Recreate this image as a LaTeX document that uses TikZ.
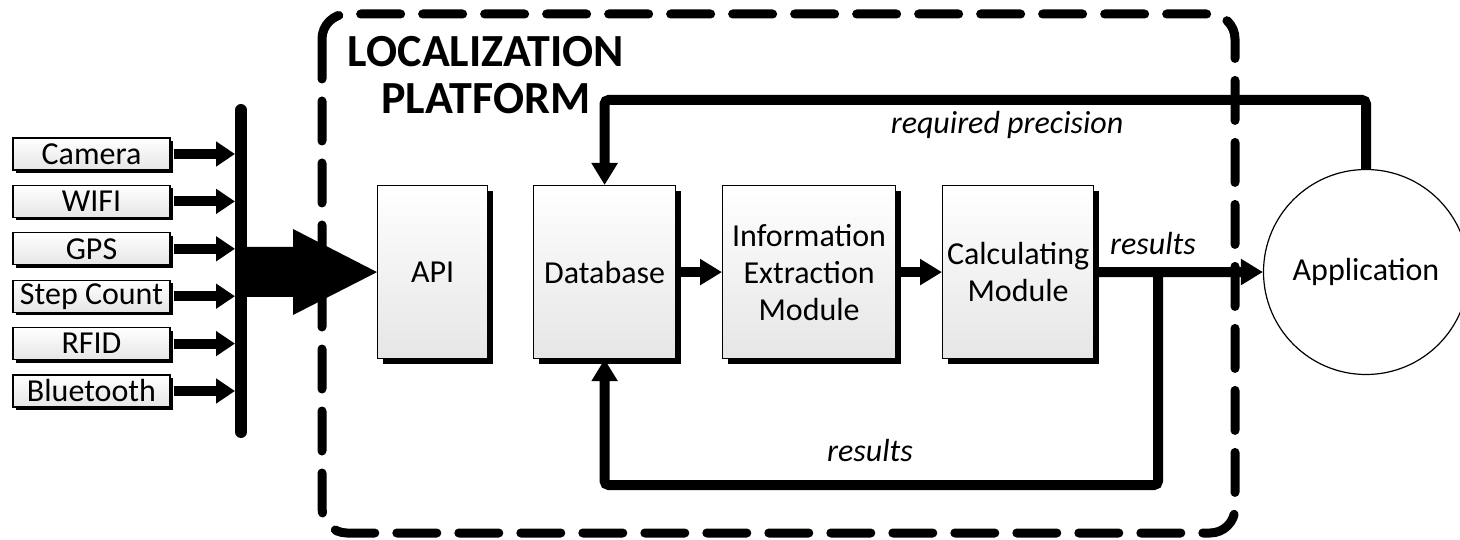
\documentclass[tikz,border=0pt]{standalone}
\usepackage{fontspec}
\setmainfont{Carlito}
\usetikzlibrary{arrows.meta,shadows}
\begin{document}
\begin{tikzpicture}[x=1pt,y=-1pt,
  txt/.style={font=\fontsize{32}{37}\selectfont},
  box/.style={draw, line width=1.2pt, top color=white, bottom color=black!10,
    inner sep=0pt, align=center, anchor=north west, txt,
    drop shadow={shadow xshift=5pt, shadow yshift=-5pt, fill=black, opacity=1}},
  sensor/.style={draw, line width=1.2pt, top color=white, bottom color=black!10,
    inner sep=0pt, minimum width=157pt, minimum height=32pt, txt,
    drop shadow={shadow xshift=3pt, shadow yshift=-3pt, fill=black, opacity=1}},
  conn/.style={line width=10pt, rounded corners=4pt},
  arr/.style={conn, -{Triangle[length=22pt,width=25pt]}},
  lbl/.style={font=\fontsize{32}{37}\selectfont\itshape},
]
\useasboundingbox (0,0) rectangle (1460,540);
\clip (0,0) rectangle (1460,540);
\fill[white] (0,0) rectangle (1460,540);

% platform frame
\draw[line width=9pt, rounded corners=25pt, dash pattern=on 40pt off 22pt, line cap=round]
  (322,14) rectangle (1235,533);
\node[font=\fontsize{46}{47}\selectfont\bfseries, align=center, inner sep=0pt] (title) at (486,75)
  {LOCALIZATION\\PLATFORM};

% sensors
\foreach \n/\t [count=\i from 0] in {s1/Camera,s2/WIFI,s3/GPS,s4/Step Count,s5/RFID,s6/Bluetooth}{
  \node[sensor] (\n) at (91.5,{154+47.4*\i}) {\t};
}
\coordinate (barL) at (235,0);
\coordinate (bartop) at (241,110);
\coordinate (barbot) at (241,432);
\draw[line width=12pt, line cap=round] (bartop) -- (barbot);
\foreach \n in {s1,s2,s3,s4,s5,s6}{
  \draw[line width=10pt, -{Triangle[length=19pt,width=24pt]}] ([xshift=3pt]\n.east) -- (\n.east -| barL);
}

% main boxes
\node[box, minimum width=110pt, minimum height=173pt] (api) at (377,185) {API};
\node[box, minimum width=142pt, minimum height=173pt] (db) at (533,185) {Database};
\node[box, minimum width=173pt, minimum height=173pt] (info) at (722,185) {Information\\Extraction\\Module};
\node[box, minimum width=151pt, minimum height=173pt] (calc) at (942,185) {Calculating\\Module};

% big arrow into API
\fill (241,247) -- (293,247) -- (293,229) -- (api.west) -- (293,315) -- (293,297) -- (241,297) -- cycle;

% application
\node[circle, draw, line width=1.2pt, fill=white, minimum size=205pt, inner sep=0pt, txt] (app) at (1366,272) {Application};

% flow arrows
\draw[arr] ([xshift=5pt]db.east) -- (info.west);
\draw[arr] ([xshift=5pt]info.east) -- (calc.west);
\draw[arr] ([xshift=5pt]calc.east) -- (app.west);

% feedback: results
\coordinate (br) at (1158,272);
\coordinate (bp) at (0,485);
\draw[arr] (br) -- (br |- bp) -| (db.south);
% feedback: required precision
\coordinate (tp) at (0,100);
\draw[arr] (app.north) -- (app.north |- tp) -| (db.north);

% labels
\node[lbl] (lres) at (1153,244) {results};
\node[lbl] (lres2) at (870,451) {results};
\node[lbl] (lprec) at (1007,125) {required precision};
\end{tikzpicture}
\end{document}
